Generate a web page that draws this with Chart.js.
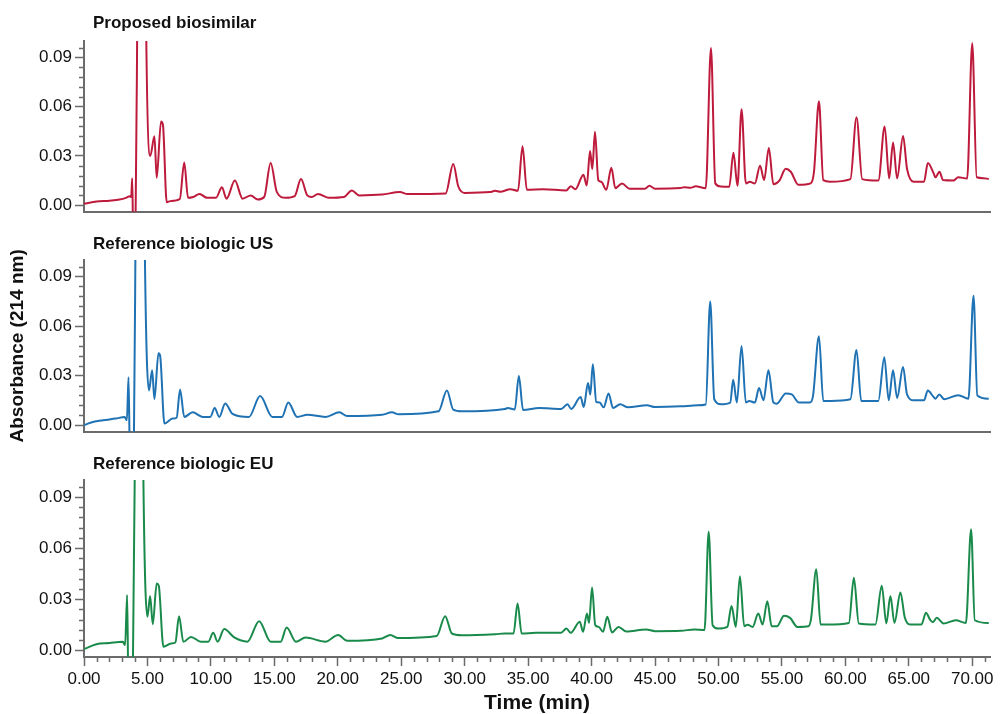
<!DOCTYPE html>
<html><head><meta charset="utf-8">
<script src="https://cdn.jsdelivr.net/npm/chart.js@4"></script>
<style>
html,body{margin:0;padding:0;background:#fff;}
#wrap{position:relative;width:1000px;height:714px;overflow:hidden;background:#fff;}
.panel{position:absolute;left:0;width:1000px;}
</style></head><body>
<div id="wrap">
<div class="panel" style="top:0;height:225px"><canvas id="c1"></canvas></div>
<div class="panel" style="top:225px;height:220px"><canvas id="c2"></canvas></div>
<div class="panel" style="top:445px;height:269px"><canvas id="c3"></canvas></div>
</div>
<script>
// ---- data (time in min, absorbance at 214 nm) ----
const panelTitles = ['Proposed biosimilar', 'Reference biologic US', 'Reference biologic EU'];
const xTickValues = [0,5,10,15,20,25,30,35,40,45,50,55,60,65,70];
const xTickLabels = ['0.00','5.00','10.00','15.00','20.00','25.00','30.00','35.00','40.00','45.00','50.00','55.00','60.00','65.00','70.00'];
const yTickValues = [0, 0.03, 0.06, 0.09];
const yTickLabels = ['0.00','0.03','0.06','0.09'];

const timesBio = [0,1,2,2.8,3.3,3.6,3.72,3.8,3.88,4.05,4.22,4.55,4.88,5.22,5.55,5.73,6.07,6.22,6.52,6.8,7.55,7.9,8.2,8.6,9.1,9.7,10.4,10.87,11.23,11.89,12.5,13.14,13.7,14.2,14.71,15.2,15.9,16.6,17.1,17.6,17.95,18.44,19.3,20.5,21.1,21.7,23.5,24.9,25.5,28.5,29.1,29.5,30.0,32.0,32.4,32.8,33.6,34.2,34.56,34.9,36.2,38.0,38.36,38.73,39.36,39.62,39.88,40.06,40.27,40.53,40.77,41.16,41.56,41.87,42.4,43.0,44.2,44.56,45.0,47.0,47.3,47.8,48.2,49.0,49.41,49.75,50.2,50.85,51.18,51.5,51.82,52.16,52.47,52.87,53.28,53.6,53.97,54.33,54.8,55.3,55.7,56.3,57.27,57.53,57.92,58.26,58.8,60.4,60.88,61.33,62.6,63.1,63.45,63.76,64.08,64.55,64.86,65.38,66.2,66.5,66.96,67.1,67.42,67.7,68.5,68.9,69.6,70.0,70.35,70.88,71.3];
const absBio = [0.001,0.0022,0.0028,0.0035,0.0045,0.0055,0.005,0.0165,-0.02,-0.02,0.14,0.5,0.12,0.03,0.042,0.0167,0.051,0.049,0.0018,0.0025,0.0038,0.026,0.0045,0.005,0.0069,0.0045,0.0045,0.011,0.004,0.015,0.004,0.006,0.0035,0.005,0.0257,0.008,0.0045,0.0055,0.0159,0.006,0.005,0.0069,0.0045,0.005,0.009,0.006,0.0065,0.008,0.0068,0.0072,0.0251,0.0114,0.0075,0.008,0.0088,0.0082,0.0098,0.0088,0.0359,0.0094,0.0098,0.009,0.0116,0.0098,0.0186,0.012,0.033,0.022,0.0447,0.0153,0.0143,0.0094,0.0228,0.0104,0.0133,0.01,0.01,0.0118,0.0101,0.0105,0.011,0.0106,0.0115,0.0104,0.0957,0.0133,0.0114,0.0112,0.032,0.0118,0.0584,0.0133,0.0143,0.0133,0.0241,0.0153,0.0349,0.0128,0.015,0.0222,0.0204,0.0124,0.0133,0.0204,0.0633,0.0153,0.0143,0.0159,0.0535,0.0159,0.015,0.048,0.0163,0.0382,0.0163,0.0422,0.0222,0.0143,0.0143,0.0257,0.0194,0.017,0.0204,0.0153,0.015,0.017,0.0163,0.0986,0.017,0.0165,0.016];

const timesUS = [0,0.5,1.5,2.5,3.2,3.38,3.51,3.62,3.92,4.08,4.4,4.77,5.12,5.37,5.55,5.87,6.0,6.34,6.99,7.3,7.57,7.9,8.56,9.35,9.95,10.3,10.66,11.13,11.7,13.0,13.88,14.85,15.6,16.1,16.8,17.6,19.03,20.13,20.74,23.5,24.27,24.8,27.94,28.6,29.1,29.77,33.17,33.4,33.95,34.27,34.6,35.87,37.6,38.1,38.4,39.14,39.38,39.72,39.9,40.1,40.37,40.64,40.95,41.34,41.69,42.26,42.87,44.38,45,47.05,48.36,49.0,49.35,49.67,50.2,50.93,51.16,51.45,51.82,52.16,52.42,52.87,53.2,53.55,53.94,54.33,54.6,55.3,55.78,56.35,57.2,57.45,57.92,58.26,58.8,60.4,60.88,61.25,62.6,63.07,63.42,63.76,64.08,64.55,64.86,65.38,66.2,66.5,66.9,67.1,67.4,67.8,68.9,69.7,70.1,70.4,71.3];
const absUS = [0.0,0.0015,0.003,0.004,0.005,0.003,0.029,-0.02,-0.02,0.14,0.5,0.12,0.021,0.0333,0.0157,0.0435,0.042,0.001,0.004,0.0045,0.0216,0.005,0.0078,0.005,0.005,0.0104,0.005,0.0131,0.0069,0.005,0.0176,0.005,0.005,0.0137,0.005,0.0063,0.005,0.0078,0.0055,0.0063,0.0078,0.0066,0.0084,0.021,0.0094,0.0084,0.0098,0.0104,0.0095,0.0298,0.0092,0.0104,0.0098,0.0127,0.0098,0.017,0.011,0.0255,0.0186,0.0369,0.0141,0.0137,0.0108,0.0192,0.0104,0.0127,0.0108,0.012,0.011,0.0114,0.012,0.0125,0.0749,0.0157,0.0127,0.0137,0.0275,0.0137,0.048,0.0137,0.0147,0.0137,0.0225,0.0151,0.0333,0.0137,0.013,0.0192,0.0186,0.0137,0.0137,0.0176,0.0539,0.0147,0.0147,0.0157,0.0455,0.0147,0.0147,0.0412,0.0151,0.0333,0.0165,0.0353,0.0186,0.0151,0.0151,0.021,0.0176,0.016,0.0186,0.0157,0.0182,0.016,0.0784,0.018,0.016];

const timesEU = [0,0.97,2.0,3.06,3.24,3.4,3.5,3.84,4.03,4.3,4.65,5.0,5.21,5.42,5.73,5.89,6.26,6.86,7.2,7.49,7.83,8.43,9.21,9.8,10.18,10.53,11.05,11.84,12.88,13.8,14.71,15.5,15.97,16.7,17.46,19.03,20.03,20.74,23.5,24.14,24.7,27.8,28.46,28.99,29.77,32.4,33.17,33.85,34.17,34.49,35.6,37.6,38.02,38.36,39.07,39.33,39.64,39.8,40.04,40.29,40.56,40.9,41.24,41.61,42.13,42.74,44.3,45,47.05,48.1,48.9,49.23,49.54,50.0,50.7,51.03,51.37,51.69,52.03,52.3,52.69,53.14,53.48,53.85,54.19,54.6,55.17,55.64,56.22,57.1,57.3,57.71,58.05,58.58,60.28,60.67,61.06,62.37,62.87,63.23,63.55,63.87,64.34,64.68,65.1,66.0,66.35,66.7,66.9,67.2,67.74,68.7,69.5,69.91,70.2,71.3];
const absEU = [0.0006,0.0035,0.0042,0.0049,0.003,0.0324,-0.02,-0.02,0.14,0.5,0.12,0.0196,0.0318,0.0153,0.0392,0.038,0.002,0.0039,0.0045,0.02,0.0049,0.0078,0.005,0.005,0.0102,0.005,0.0124,0.0075,0.005,0.017,0.005,0.005,0.0133,0.005,0.0074,0.005,0.009,0.0055,0.0069,0.009,0.0072,0.0084,0.02,0.0098,0.0088,0.0094,0.0098,0.0098,0.0275,0.0098,0.0102,0.0102,0.0127,0.0102,0.0167,0.0108,0.0216,0.0161,0.0369,0.0147,0.0137,0.0108,0.0196,0.0104,0.0137,0.011,0.0122,0.0112,0.0114,0.0122,0.0118,0.0696,0.0147,0.0127,0.0137,0.0259,0.0137,0.0435,0.0141,0.015,0.0137,0.0216,0.0151,0.0288,0.0141,0.014,0.0202,0.019,0.0137,0.0141,0.0186,0.0476,0.0151,0.0151,0.016,0.0425,0.0157,0.0151,0.0378,0.0157,0.0318,0.016,0.0339,0.0194,0.0151,0.0151,0.022,0.0176,0.0165,0.019,0.0157,0.0176,0.016,0.071,0.0176,0.016];

// ---- styling ----
const AXIS = '#6b6b6b';
const FONT = "'Liberation Sans', Arial, Helvetica, sans-serif";
Chart.defaults.font.family = FONT;
Chart.defaults.color = '#111';
const Y_MINOR = 0.006, X_MINOR = 1;

function toPoints(ts, vs){ return ts.map((t,i)=>({x:t, y:vs[i]})); }

const panelTitlePlugin = {
  id:'panelTitle',
  afterDraw(chart, args, o){
    const ctx = chart.ctx;
    ctx.save();
    ctx.font = 'bold 17px ' + FONT;
    ctx.fillStyle = '#111';
    ctx.textBaseline = 'middle';
    ctx.textAlign = 'left';
    ctx.fillText(o.text, chart.chartArea.left + 9, o.y);
    ctx.restore();
  }
};
const minorTickPlugin = {
  id:'minorTicks',
  afterDraw(chart, args, o){
    const ctx = chart.ctx, ys = chart.scales.y, xs = chart.scales.x;
    ctx.save();
    ctx.strokeStyle = AXIS; ctx.lineWidth = 1.5;
    ctx.beginPath();
    for (let i=0; i*Y_MINOR <= ys.max + 1e-9; i++){
      if (i % 5 === 0) continue;
      const py = Math.round(ys.getPixelForValue(i*Y_MINOR)) + 0.5;
      ctx.moveTo(ys.right - 5, py); ctx.lineTo(ys.right, py);
    }
    if (o.showX){
      for (let i=0; i*X_MINOR <= xs.max + 1e-9; i++){
        if (i % 5 === 0) continue;
        const px = Math.round(xs.getPixelForValue(i*X_MINOR)) + 0.5;
        ctx.moveTo(px, xs.top); ctx.lineTo(px, xs.top + 5);
      }
    }
    ctx.stroke();
    ctx.restore();
  }
};

function makePanel(id, idx, ts, vs, color, cfg){
  new Chart(document.getElementById(id), {
    type:'line',
    data:{ datasets:[{ data:toPoints(ts, vs), borderColor:color, borderWidth:2, pointRadius:0, fill:false, cubicInterpolationMode:'monotone' }]},
    options:{
      responsive:true, maintainAspectRatio:false, animation:false, devicePixelRatio:1,
      layout:{ padding:{ top:cfg.padTop, right:10, left:0, bottom:0 } },
      plugins:{ legend:{display:false}, tooltip:{enabled:false},
        panelTitle:{ text:panelTitles[idx], y:cfg.titleY },
        minorTicks:{ showX:cfg.showX } },
      scales:{
        x:{ type:'linear', min:0, max:71.4,
          afterBuildTicks:(s)=>{ s.ticks = xTickValues.map(v=>({value:v})); },
          afterFit:(s)=>{ s.height = cfg.xHeight; },
          ticks:{ display:cfg.showX, autoSkip:false, maxRotation:0, padding:3, font:{size:17}, color:'#111',
            callback:(v)=>{ const k = xTickValues.indexOf(v); return k>=0 ? xTickLabels[k] : ''; } },
          grid:{ display:true, drawOnChartArea:false, drawTicks:cfg.showX, tickLength:9, tickColor:AXIS, tickWidth:1.5 },
          border:{ display:true, color:AXIS, width:2 },
          title:{ display:cfg.showX, text:'Time (min)', font:{size:21, weight:'bold', lineHeight:1.0}, color:'#111', padding:{top:0,bottom:0} }
        },
        y:{ type:'linear', min:-0.004, max:0.1,
          afterBuildTicks:(s)=>{ s.ticks = yTickValues.map(v=>({value:v})); },
          afterFit:(s)=>{ s.width = 84; },
          ticks:{ padding:3, font:{size:17}, color:'#111',
            callback:(v)=>{ const k = yTickValues.indexOf(v); return k>=0 ? yTickLabels[k] : ''; } },
          grid:{ display:true, drawOnChartArea:false, tickLength:9, tickColor:AXIS, tickWidth:1.5 },
          border:{ display:true, color:AXIS, width:2 },
          title:{ display:cfg.yTitle, text:'Absorbance (214 nm)', font:{size:19, weight:'bold'}, color:'#111', padding:{top:6,bottom:0} }
        }
      }
    },
    plugins:[panelTitlePlugin, minorTickPlugin]
  });
}

makePanel('c1', 0, timesBio, absBio, '#bd1a3c', {padTop:41, xHeight:7, titleY:23, showX:false, yTitle:false});
makePanel('c2', 1, timesUS, absUS, '#1f72b3', {padTop:35, xHeight:8, titleY:19, showX:false, yTitle:true});
makePanel('c3', 2, timesEU, absEU, '#1a8a4b', {padTop:35, xHeight:57, titleY:19, showX:true, yTitle:false});
</script>
</body></html>
